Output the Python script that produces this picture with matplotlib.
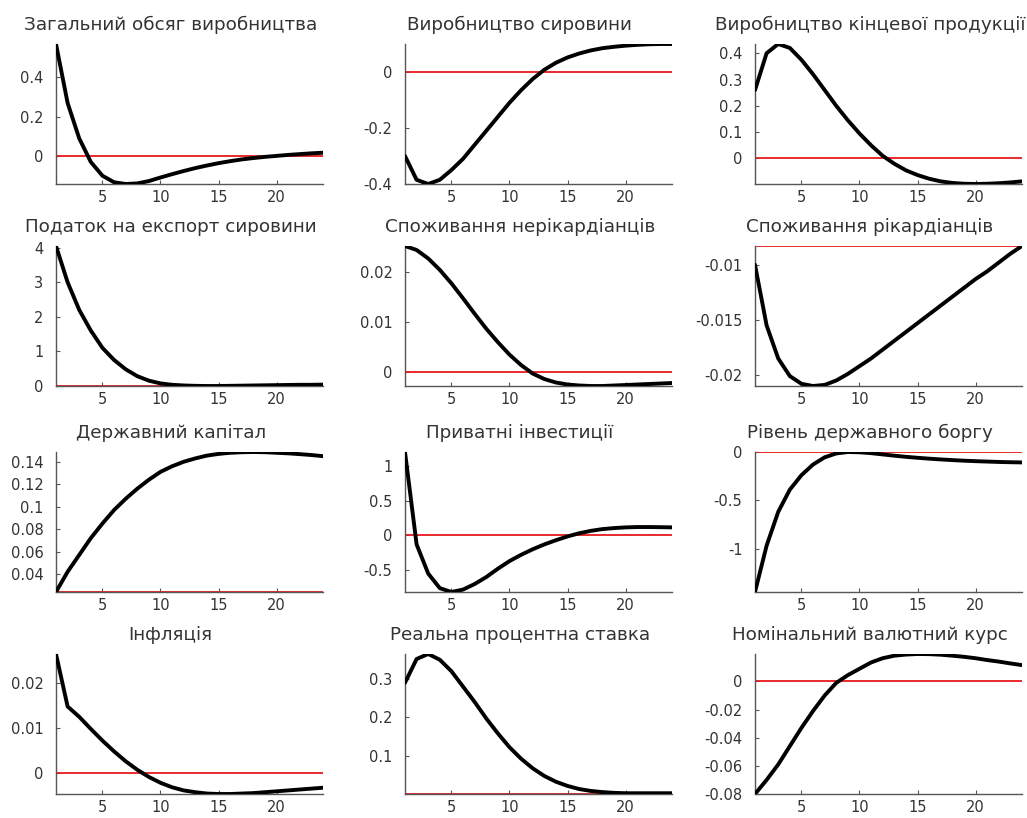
# Impulse responses, 4x3 panels
import numpy as np
import matplotlib
matplotlib.use("Agg")
import matplotlib.pyplot as plt

plt.rcParams['font.family'] = ['DejaVu Sans']
plt.rcParams['axes.unicode_minus'] = False

periods = list(range(1, 25))

titles = [
    "Загальний обсяг виробництва", "Виробництво сировини", "Виробництво кінцевої продукції",
    "Податок на експорт сировини", "Споживання нерікардіанців", "Споживання рікардіанців",
    "Державний капітал", "Приватні інвестиції", "Рівень державного боргу",
    "Інфляція", "Реальна процентна ставка", "Номінальний валютний курс",
]

output_total = [0.57, 0.27, 0.09, -0.03, -0.10, -0.133, -0.142, -0.139, -0.127, -0.109, -0.092, -0.076,
                -0.061, -0.048, -0.036, -0.026, -0.017, -0.01, -0.004, 0.001, 0.006, 0.01, 0.014, 0.017]
output_raw = [-0.30, -0.385, -0.40, -0.385, -0.35, -0.31, -0.26, -0.21, -0.16, -0.11, -0.065, -0.025,
              0.008, 0.033, 0.052, 0.066, 0.077, 0.085, 0.09, 0.094, 0.097, 0.099, 0.1, 0.1]
output_final = [0.26, 0.40, 0.435, 0.42, 0.375, 0.32, 0.26, 0.20, 0.145, 0.095, 0.05, 0.01,
                -0.02, -0.045, -0.063, -0.077, -0.087, -0.093, -0.096, -0.097, -0.096, -0.094, -0.091, -0.087]
export_tax = [4.05, 3.0, 2.2, 1.6, 1.1, 0.75, 0.48, 0.28, 0.15, 0.07, 0.03, 0.01,
              0.0, -0.005, -0.005, 0.0, 0.005, 0.01, 0.015, 0.02, 0.025, 0.03, 0.03, 0.035]
cons_nonricardian = [0.0253, 0.0245, 0.0228, 0.0205, 0.0178, 0.0148, 0.0117, 0.0087, 0.006, 0.0035, 0.0014, -0.0003,
                     -0.0014, -0.0021, -0.0025, -0.0027, -0.0028, -0.0028, -0.0027, -0.0026, -0.0025, -0.0024, -0.0023, -0.0022]
cons_ricardian = [-0.0100, -0.0155, -0.0185, -0.0201, -0.0208, -0.0210, -0.0209, -0.0205, -0.0199, -0.0192, -0.0185, -0.0177,
                  -0.0169, -0.0161, -0.0153, -0.0145, -0.0137, -0.0129, -0.0121, -0.0113, -0.0106, -0.0098, -0.0090, -0.0083]
public_capital = [0.024, 0.042, 0.057, 0.072, 0.085, 0.097, 0.107, 0.116, 0.124, 0.131, 0.136, 0.140,
                  0.143, 0.1455, 0.147, 0.148, 0.1485, 0.1487, 0.1485, 0.148, 0.1475, 0.1468, 0.146, 0.145]
private_invest = [1.2, -0.13, -0.55, -0.76, -0.815, -0.78, -0.70, -0.60, -0.48, -0.37, -0.28, -0.20,
                  -0.13, -0.07, -0.015, 0.03, 0.065, 0.09, 0.105, 0.115, 0.12, 0.12, 0.118, 0.115]
public_debt = [-1.45, -0.97, -0.62, -0.39, -0.24, -0.13, -0.055, -0.015, 0.0, -0.003, -0.012, -0.025,
               -0.038, -0.05, -0.06, -0.069, -0.077, -0.084, -0.09, -0.095, -0.099, -0.103, -0.106, -0.108]
inflation = [0.0265, 0.0148, 0.0125, 0.0098, 0.0072, 0.0048, 0.0026, 0.0007, -0.0009, -0.0022, -0.0032, -0.0039,
             -0.0043, -0.0046, -0.0047, -0.0047, -0.0046, -0.0045, -0.0043, -0.0041, -0.0039, -0.0037, -0.0035, -0.0033]
real_rate = [0.29, 0.352, 0.365, 0.35, 0.32, 0.28, 0.24, 0.197, 0.158, 0.122, 0.092, 0.067,
             0.047, 0.032, 0.021, 0.013, 0.008, 0.005, 0.003, 0.002, 0.002, 0.002, 0.002, 0.002]
exchange_rate = [-0.080, -0.070, -0.059, -0.046, -0.033, -0.021, -0.010, -0.001, 0.0045, 0.009, 0.0135, 0.0165,
                 0.0183, 0.0191, 0.0195, 0.0194, 0.019, 0.0183, 0.0175, 0.0165, 0.0152, 0.0141, 0.0128, 0.0116]

series = [output_total, output_raw, output_final, export_tax, cons_nonricardian, cons_ricardian,
          public_capital, private_invest, public_debt, inflation, real_rate, exchange_rate]

# level of the red reference line in each panel
ref_levels = [0, 0, 0, 0, 0, -0.0083, 0.024, 0, 0, 0, 0, 0]

yticks = [
    [0, 0.2, 0.4], [-0.4, -0.2, 0], [0, 0.1, 0.2, 0.3, 0.4],
    [0, 1, 2, 3, 4], [0, 0.01, 0.02], [-0.02, -0.015, -0.01],
    [0.04, 0.06, 0.08, 0.1, 0.12, 0.14], [-0.5, 0, 0.5, 1], [-1, -0.5, 0],
    [0, 0.01, 0.02], [0.1, 0.2, 0.3], [-0.08, -0.06, -0.04, -0.02, 0],
]
xticks = [5, 10, 15, 20]

W, H = 1027, 818
fig = plt.figure(figsize=(W / 100, H / 100), dpi=100)

col_left = [56, 405, 755]
row_top = [44, 246, 452, 654]
ax_w, ax_h = 267, 140

for i in range(12):
    r, c = divmod(i, 3)
    left = col_left[c] / W
    bottom = 1 - (row_top[r] + ax_h) / H
    ax = fig.add_axes([left, bottom, ax_w / W, ax_h / H])

    y = np.array(series[i])
    ax.plot(periods, [ref_levels[i]] * len(periods), color="#e8191e", linewidth=1.3, zorder=2)
    ax.plot(periods, y, color="black", linewidth=2.8, zorder=3,
            solid_capstyle="round", solid_joinstyle="round")

    lo = min(y.min(), ref_levels[i])
    hi = max(y.max(), ref_levels[i])
    ax.set_xlim(1, 24)
    ax.set_ylim(lo, hi)
    ax.set_xticks(xticks)
    ax.set_yticks(yticks[i])
    ax.set_yticklabels(["%g" % v for v in yticks[i]])

    for s in ["top", "right"]:
        ax.spines[s].set_visible(False)
    for s in ["left", "bottom"]:
        ax.spines[s].set_color("#555555")
        ax.spines[s].set_linewidth(1.0)
    ax.tick_params(direction="in", length=3, width=0.8, colors="#555555",
                   labelcolor="#333333", labelsize=10.5)
    ax.tick_params(axis="y", pad=9)
    ax.tick_params(axis="x", pad=4)
    ax.set_title(titles[i], fontsize=13.2, color="#333333", pad=10, x=0.43)

fig.savefig("out.png", dpi=100)
